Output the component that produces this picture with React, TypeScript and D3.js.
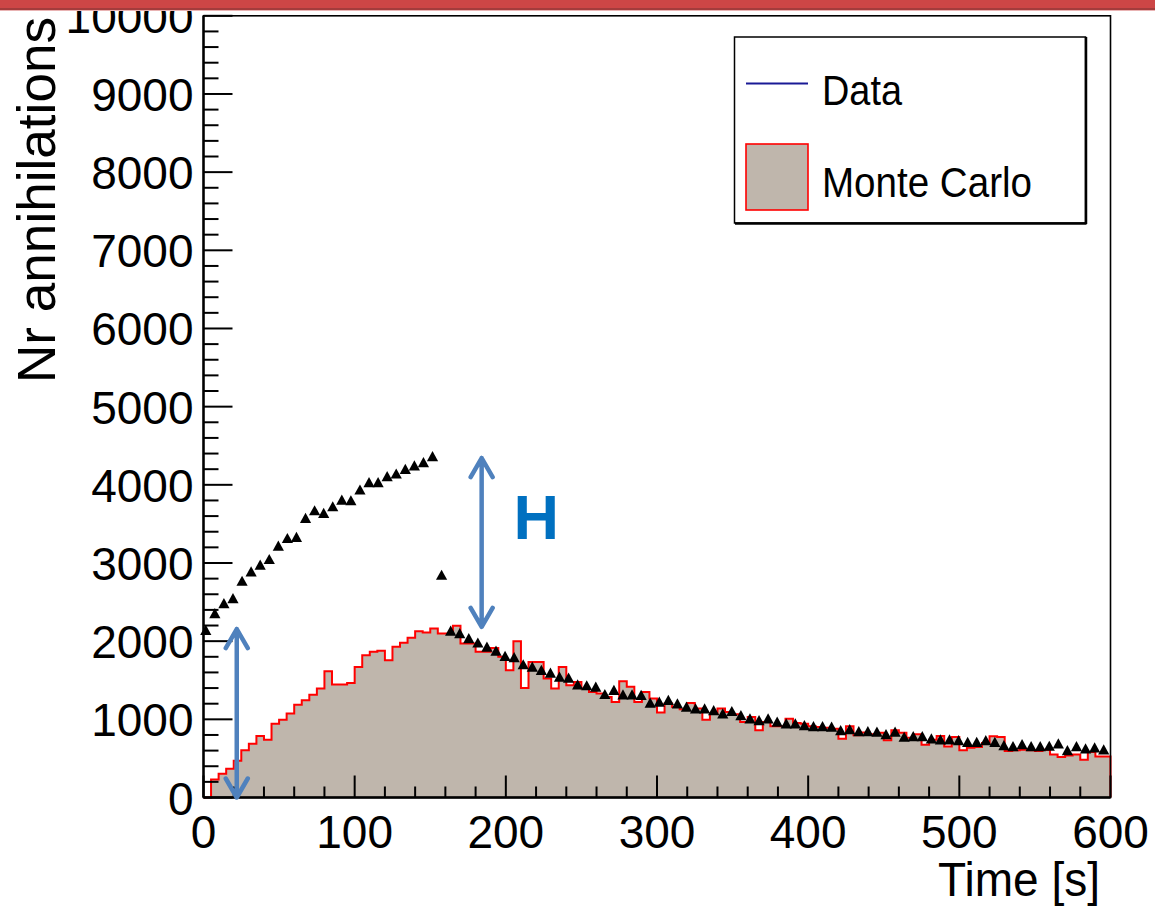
import React from "react";
import * as d3 from "d3";

// Monte Carlo prediction: counts per 5 s bin from 0 to 600 s
const MC_BIN_WIDTH = 5;
const MC_COUNTS = [
  0, 231, 303, 367, 470, 603, 688, 786, 739, 944,
  996, 1073, 1188, 1244, 1316, 1393, 1615, 1444, 1444, 1466,
  1671, 1821, 1863, 1876, 1756, 1927, 1979, 2043, 2128, 2111,
  2162, 2098, 2098, 2197, 1970, 1970, 1863, 1863, 1914, 1799,
  1628, 2000, 1402, 1735, 1735, 1521, 1393, 1671, 1436, 1479,
  1393, 1350, 1329, 1286, 1222, 1487, 1418, 1222, 1350, 1265,
  1086, 1201, 1158, 1128, 1209, 1137, 996, 1073, 1137, 1094,
  1064, 966, 1030, 859, 966, 910, 910, 1009, 953, 944,
  910, 902, 893, 880, 752, 910, 795, 830, 810, 829,
  731, 859, 829, 765, 808, 676, 739, 786, 654, 773,
  603, 637, 645, 696, 782, 773, 594, 603, 611, 603,
  594, 611, 551, 517, 538, 551, 483, 581, 526, 526,
];

// Measured annihilations, one point every 6 s
const DATA_FIRST_TIME = 1.5;
const DATA_STEP = 6;
const DATA_COUNTS = [
  2141, 2355, 2483, 2547, 2769, 2889, 2974, 3047, 3218, 3316,
  3329, 3573, 3671, 3637, 3722, 3808, 3799, 3936, 4030, 4030,
  4107, 4141, 4201, 4244, 4286, 4363, 2846, 2132, 2098, 2034,
  1979, 1927, 1876, 1808, 1791, 1701, 1671, 1628, 1594, 1543,
  1530, 1444, 1432, 1414, 1320, 1372, 1316, 1316, 1308, 1209,
  1222, 1244, 1201, 1158, 1137, 1137, 1115, 1073, 1103, 1051,
  1009, 987, 1009, 966, 944, 944, 923, 910, 910, 902,
  859, 872, 846, 846, 838, 808, 838, 773, 782, 782,
  752, 739, 739, 731, 709, 709, 731, 709, 667, 654,
  679, 654, 654, 658, 688, 603, 654, 624, 637, 611,
];

const X_TICKS = [0, 100, 200, 300, 400, 500, 600];
const Y_TICKS = [0, 1000, 2000, 3000, 4000, 5000, 6000, 7000, 8000, 9000, 10000];

// Height annotations: [time, low count, high count]
const BASE_ARROW = [22, 0, 2154];
const GAP_ARROW = [184, 2183, 4342];
const GAP_LABEL = { t: 205, v: 3308, text: "H" };

const FONT = "'Liberation Sans', Arial, Helvetica, sans-serif";
const MC_FILL = "#bfb6ac";
const ARROW_BLUE = "#4f81bd";

export default function App() {
  const W = 1155;
  const H = 907;
  const x = d3.scaleLinear().domain([0, 600]).range([203.5, 1110.5]);
  const y = d3.scaleLinear().domain([0, 10000]).range([797.5, 15.8]);

  const steps: [number, number][] = MC_COUNTS.map((v, i) => [i * MC_BIN_WIDTH, v]);
  steps.push([600, MC_COUNTS[MC_COUNTS.length - 1]]);

  const fillPath = d3
    .area<[number, number]>()
    .x((d) => x(d[0]))
    .y0(y(0))
    .y1((d) => y(d[1]))
    .curve(d3.curveStepAfter)(steps) as string;

  const outlinePath = d3
    .line<[number, number]>()
    .x((d) => x(d[0]))
    .y((d) => y(d[1]))
    .curve(d3.curveStepAfter)([...steps, [600, 0]]) as string;

  const points = DATA_COUNTS.map((v, i) => ({ t: DATA_FIRST_TIME + i * DATA_STEP, v }));

  const xMinor = d3.range(0, 601, 20).filter((t) => t % 100 !== 0);
  const yMinor = d3.range(0, 10001, 200).filter((v) => v % 1000 !== 0);

  const tri = (cx: number, cy: number) =>
    `M${cx},${cy - 5.4}L${cx + 5.6},${cy + 4.8}L${cx - 5.6},${cy + 4.8}Z`;

  const arrow = (a: number[]) => {
    const ax = x(a[0]);
    const top = y(a[2]);
    const bot = y(a[1]);
    const hw = 11;
    const hh = 19;
    return (
      `M${ax},${top}L${ax},${bot}` +
      `M${ax - hw},${top + hh}L${ax},${top}L${ax + hw},${top + hh}` +
      `M${ax - hw},${bot - hh}L${ax},${bot}L${ax + hw},${bot - hh}`
    );
  };

  const left = x(0);
  const right = x(600);
  const top = y(10000);
  const bottom = y(0);

  return (
    <svg
      width={W}
      height={H}
      viewBox={`0 0 ${W} ${H}`}
      style={{ position: "absolute", left: 0, top: 0, display: "block", background: "#fff" }}
      fontFamily={FONT}
    >
      <rect x={0} y={0} width={W} height={H} fill="#fff" />

      {/* Monte Carlo histogram */}
      <path d={fillPath} fill={MC_FILL} stroke="none" />
      <path d={outlinePath} fill="none" stroke="#ff0000" strokeWidth={2} />

      {/* Data points */}
      <g fill="#000">
        {points.map((p, i) => (
          <path key={i} d={tri(x(p.t), y(p.v))} />
        ))}
      </g>

      {/* Frame */}
      <rect x={left} y={top} width={right - left} height={bottom - top} fill="none" stroke="#000" strokeWidth={1.6} />
      <line x1={left} x2={left} y1={top} y2={bottom} stroke="#000" strokeWidth={2.4} />
      <line x1={left} x2={right} y1={bottom} y2={bottom} stroke="#000" strokeWidth={2.4} />

      {/* Ticks */}
      <g stroke="#000" strokeWidth={2}>
        {X_TICKS.map((t) => (
          <line key={`xm${t}`} x1={x(t)} x2={x(t)} y1={bottom} y2={bottom - 22} />
        ))}
        {xMinor.map((t) => (
          <line key={`xn${t}`} x1={x(t)} x2={x(t)} y1={bottom} y2={bottom - 11} />
        ))}
        {Y_TICKS.map((v) => (
          <line key={`ym${v}`} x1={left} x2={left + 29} y1={y(v)} y2={y(v)} />
        ))}
        {yMinor.map((v) => (
          <line key={`yn${v}`} x1={left} x2={left + 15} y1={y(v)} y2={y(v)} />
        ))}
      </g>

      {/* Tick labels */}
      <g fontSize={46} fill="#000">
        {X_TICKS.map((t) => (
          <text key={`xl${t}`} x={x(t)} y={848} textAnchor="middle">
            {t}
          </text>
        ))}
        {Y_TICKS.map((v) => (
          <text key={`yl${v}`} x={left - 10} y={y(v) + 17} textAnchor="end">
            {v}
          </text>
        ))}
      </g>

      {/* Axis titles */}
      <text x={1100} y={896} fontSize={48} textAnchor="end" fill="#000" textLength={162} lengthAdjust="spacingAndGlyphs">
        Time [s]
      </text>
      <text
        transform={`translate(55, 17) rotate(-90)`}
        fontSize={53}
        textAnchor="end"
        fill="#000"
        textLength={366}
        lengthAdjust="spacingAndGlyphs"
      >
        Nr annihilations
      </text>

      {/* Annotations */}
      <g stroke={ARROW_BLUE} strokeWidth={4.5} strokeLinecap="round" strokeLinejoin="round" fill="none">
        <path d={arrow(BASE_ARROW)} />
        <path d={arrow(GAP_ARROW)} />
      </g>
      <text x={x(GAP_LABEL.t)} y={y(GAP_LABEL.v)} fontSize={63} fontWeight="bold" fill="#0070c0">
        {GAP_LABEL.text}
      </text>

      {/* Legend */}
      <g>
        <rect x={734.5} y={37} width={351} height={186} fill="#fff" stroke="#000" strokeWidth={1.5} />
        <line x1={735} x2={1086.5} y1={223.5} y2={223.5} stroke="#000" strokeWidth={2.5} />
        <line x1={1086} x2={1086} y1={37} y2={224} stroke="#000" strokeWidth={2.5} />
        <line x1={746} x2={808} y1={83.5} y2={83.5} stroke="#1a1a96" strokeWidth={2} />
        <text x={822} y={105} fontSize={42} fill="#000" textLength={80} lengthAdjust="spacingAndGlyphs">
          Data
        </text>
        <rect x={746} y={144} width={62} height={66} fill={MC_FILL} stroke="#ff0000" strokeWidth={1.6} />
        <text x={822} y={196.5} fontSize={42} fill="#000" textLength={210} lengthAdjust="spacingAndGlyphs">
          Monte Carlo
        </text>
      </g>

      {/* Slide header bar */}
      <rect x={0} y={0} width={W} height={8} fill="#cd4646" />
      <rect x={0} y={8} width={W} height={2} fill="#a33c3c" />
      <rect x={0} y={10} width={W} height={1} fill="#e9b3b3" />
    </svg>
  );
}
